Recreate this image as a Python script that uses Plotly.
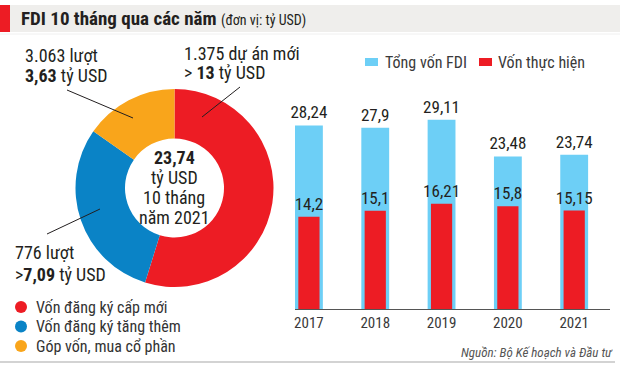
import plotly.graph_objects as go

W, H = 627, 369


def px(x):
    return x / W


def py(y):
    return 1 - y / H


# ---------------- data ----------------
years = ["2017", "2018", "2019", "2020", "2021"]
total_fdi = [28.24, 27.9, 29.11, 23.48, 23.74]
realized = [14.2, 15.1, 16.21, 15.8, 15.15]
bar_series_names = ["Tổng vốn FDI", "Vốn thực hiện"]

donut_labels = ["Vốn đăng ký cấp mới", "Vốn đăng ký tăng thêm", "Góp vốn, mua cổ phần"]
donut_values = [13, 7.09, 3.63]
donut_total = "23,74"

title_main = "FDI 10 tháng qua các năm"
title_unit = "(đơn vị: tỷ USD)"
source_text = "Nguồn: Bộ Kế hoạch và Đầu tư"

# ---------------- style ----------------
FONT = "Roboto Condensed, Liberation Sans Narrow, Arial Narrow, Roboto, Arial, sans-serif"
TXT = "#231f20"
RED = "#ed1c24"
BLUE = "#0a83c6"
ORANGE = "#f9a51b"
LBLUE = "#6dcff6"
donut_colors = [RED, BLUE, ORANGE]


def fmt(v):
    return ("%g" % v).replace(".", ",")


fig = go.Figure()

# donut
cx, cy, r = 174.5, 188, 99
fig.add_trace(go.Pie(
    values=donut_values, labels=donut_labels,
    marker=dict(colors=donut_colors, line=dict(width=0)),
    hole=0.5, sort=False, direction="clockwise", rotation=0,
    textinfo="none", hoverinfo="label+value", showlegend=False,
    domain=dict(x=[px(cx - r), px(cx + r)], y=[py(cy + r), py(cy - r)]),
))

# bars
fig.add_trace(go.Bar(
    x=years, y=total_fdi, name=bar_series_names[0], width=0.42,
    marker=dict(color=LBLUE, line=dict(width=0)),
    text=[fmt(v) for v in total_fdi], textposition="outside", constraintext="none",
    textfont=dict(family=FONT, size=17, color=TXT), cliponaxis=False,
    showlegend=False, xaxis="x", yaxis="y",
))
fig.add_trace(go.Bar(
    x=years, y=realized, name=bar_series_names[1], width=0.32,
    marker=dict(color=RED, line=dict(width=0)),
    text=[fmt(v) for v in realized], textposition="outside", constraintext="none",
    textfont=dict(family=FONT, size=17, color=TXT), cliponaxis=False,
    showlegend=False, xaxis="x", yaxis="y",
))

base_y, top_y, scale = 309, 40, 6.5
fig.update_layout(
    width=W, height=H, margin=dict(l=0, r=0, t=0, b=0),
    paper_bgcolor="white", plot_bgcolor="rgba(0,0,0,0)",
    barmode="overlay", font=dict(family=FONT, color=TXT),
    uniformtext=dict(mode=False),
    xaxis=dict(domain=[px(295), px(610)], type="category", range=[-0.21, 4.54],
               showgrid=False, showline=True, linecolor="#555", linewidth=1,
               ticks="", tickfont=dict(family=FONT, size=15, color="#3a3a3a"),
               fixedrange=True),
    yaxis=dict(domain=[py(base_y), py(top_y)], range=[0, (base_y - top_y) / scale],
               visible=False, fixedrange=True),
)

shapes = []
annotations = []

# title bar
shapes.append(dict(type="rect", xref="paper", yref="paper", x0=0, x1=px(620),
                   y0=py(32), y1=py(5), fillcolor="#efeeec", line=dict(width=0), layer="below"))
shapes.append(dict(type="rect", xref="paper", yref="paper", x0=0, x1=px(10),
                   y0=py(32), y1=py(5), fillcolor=RED, line=dict(width=0)))
shapes.append(dict(type="line", xref="paper", yref="paper", x0=0, x1=px(620),
                   y0=py(34), y1=py(34), line=dict(color="#f0f0f0", width=1)))
annotations.append(dict(
    xref="paper", yref="paper", x=px(19), y=py(19), xanchor="left", yanchor="middle",
    showarrow=False,
    text="<b>%s</b> <span style='font-size:14px'>%s</span>" % (title_main, title_unit),
    font=dict(family=FONT, size=19, color=TXT)))

# bottom rule
shapes.append(dict(type="line", xref="paper", yref="paper", x0=0, x1=px(615),
                   y0=py(362), y1=py(362), line=dict(color="#c4c4c4", width=1.5)))

# donut center text
center_lines = ["<b>%s</b>" % donut_total, "tỷ USD", "10 tháng", "năm 2021"]
for i, t in enumerate(center_lines):
    annotations.append(dict(xref="paper", yref="paper", x=px(174), y=py(157 + 20 * i),
                            xanchor="center", yanchor="middle", showarrow=False, text=t,
                            font=dict(family=FONT, size=18, color=TXT)))

# donut callouts
callouts = [
    (23, 55, "3.063 lượt"), (23, 75, "<b>%s</b> tỷ USD" % fmt(donut_values[2])),
    (182, 53, "1.375 dự án mới"), (182, 73, "> <b>%s</b> tỷ USD" % fmt(donut_values[0])),
    (13, 253, "776 lượt"), (13, 274, "><b>%s</b> tỷ USD" % fmt(donut_values[1])),
]
for x, y, t in callouts:
    annotations.append(dict(xref="paper", yref="paper", x=px(x), y=py(y), xanchor="left",
                            yanchor="middle", showarrow=False, text=t,
                            font=dict(family=FONT, size=18, color=TXT)))
leaders = [((67, 90), (133, 118)), ((240, 87), (202, 117)), ((100, 209), (47, 234))]
for (x0, y0), (x1, y1) in leaders:
    shapes.append(dict(type="line", xref="paper", yref="paper", x0=px(x0), y0=py(y0),
                       x1=px(x1), y1=py(y1), line=dict(color=TXT, width=1)))

# donut legend
for i, (lab, col) in enumerate(zip(donut_labels, donut_colors)):
    yy = 307 + 19.5 * i
    shapes.append(dict(type="circle", xref="paper", yref="paper", x0=px(15), x1=px(27),
                       y0=py(yy + 6), y1=py(yy - 6), fillcolor=col, line=dict(width=0)))
    annotations.append(dict(xref="paper", yref="paper", x=px(34), y=py(yy), xanchor="left",
                            yanchor="middle", showarrow=False, text=lab,
                            font=dict(family=FONT, size=16, color="#333")))

# bar legend
for (x0, lab_x), lab, col in zip([(365, 383), (479, 496)], bar_series_names, [LBLUE, RED]):
    shapes.append(dict(type="rect", xref="paper", yref="paper", x0=px(x0), x1=px(x0 + 13),
                       y0=py(66), y1=py(58), fillcolor=col, line=dict(width=0)))
    annotations.append(dict(xref="paper", yref="paper", x=px(lab_x), y=py(62), xanchor="left",
                            yanchor="middle", showarrow=False, text=lab,
                            font=dict(family=FONT, size=16, color="#3a3a3a")))

# source
annotations.append(dict(xref="paper", yref="paper", x=px(615), y=py(352), xanchor="right",
                        yanchor="middle", showarrow=False, text="<i>%s</i>" % source_text,
                        font=dict(family=FONT, size=13, color="#555")))

fig.update_layout(shapes=shapes, annotations=annotations)
fig.write_html(
    "out.html",
    config={"displayModeBar": False},
    post_script="document.body.style.margin='0';document.body.style.overflow='hidden';",
)
